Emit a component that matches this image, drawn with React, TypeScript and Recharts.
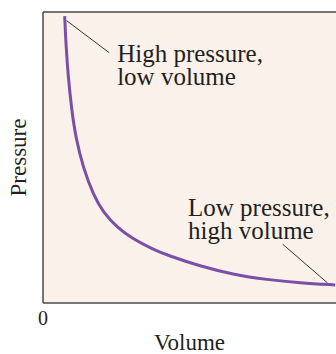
import React from "react";
import {
  CartesianGrid,
  Line,
  LineChart,
  ReferenceDot,
  ReferenceLine,
  XAxis,
  YAxis
} from "recharts";

// Boyle's law curve (arbitrary units 0..10)
const volume = [0.74, 0.78, 0.86, 0.98, 1.12, 1.38, 1.72, 2.05, 2.53, 3.07, 3.75, 4.27, 5.36, 6.48, 7.65, 8.77, 9.97];
const pressure = [9.86, 8.93, 7.77, 6.63, 5.67, 4.62, 3.72, 3.12, 2.6, 2.2, 1.85, 1.63, 1.27, 0.98, 0.8, 0.69, 0.62];
const xTicks = [0];

const highLabel = ["High pressure,", "low volume"];
const lowLabel = ["Low pressure,", "high volume"];

const data = volume.map((v, i) => ({ v, p: pressure[i] }));

const FONT = "'Liberation Serif', 'Times New Roman', serif";
const INK = "#231f20";
const AXIS = "#4a4a4a";

function note(lines: string[]) {
  return (props: any) => (
    <text x={props.cx} y={props.cy} fontFamily={FONT} fontSize={25} fill={INK}>
      {lines.map((t, i) => (
        <tspan key={t} x={props.cx} dy={i === 0 ? 0 : 23}>
          {t}
        </tspan>
      ))}
    </text>
  );
}

export default function App() {
  return (
    <div style={{ position: "absolute", left: 0, top: 0, background: "#fff" }}>
      <LineChart
        width={336}
        height={354}
        data={data}
        margin={{ top: 12, right: 0, bottom: 0, left: 0 }}
      >
        <CartesianGrid fill="#fbf1eb" horizontal={false} vertical={false} />
        <XAxis
          type="number"
          dataKey="v"
          domain={[0, 10]}
          ticks={xTicks}
          height={51}
          tickLine={false}
          axisLine={{ stroke: AXIS, strokeWidth: 1.5 }}
          tick={{ fontFamily: FONT, fontSize: 20, fill: INK }}
          label={{
            value: "Volume",
            position: "insideBottom",
            offset: 4,
            style: { fontFamily: FONT, fontSize: 23, fill: INK }
          }}
        />
        <YAxis
          type="number"
          domain={[0, 10]}
          width={43}
          tick={false}
          tickLine={false}
          axisLine={{ stroke: AXIS, strokeWidth: 1.5 }}
          label={{
            value: "Pressure",
            angle: -90,
            position: "insideLeft",
            offset: 18,
            style: { fontFamily: FONT, fontSize: 23, fill: INK, textAnchor: "middle" }
          }}
        />
        <ReferenceLine y={10} stroke={AXIS} strokeWidth={1.5} />
        <ReferenceLine
          segment={[{ x: 0.81, y: 9.7 }, { x: 2.26, y: 8.6 }]}
          stroke="#333"
          strokeWidth={1}
        />
        <ReferenceLine
          segment={[{ x: 8.18, y: 2.02 }, { x: 9.71, y: 0.69 }]}
          stroke="#333"
          strokeWidth={1}
        />
        <Line
          type="basis"
          dataKey="p"
          stroke="#7a4fa8"
          strokeWidth={3}
          dot={false}
          isAnimationActive={false}
        />
        <ReferenceDot x={2.53} y={8.28} r={0} shape={note(highLabel)} />
        <ReferenceDot x={4.95} y={2.99} r={0} shape={note(lowLabel)} />
      </LineChart>
    </div>
  );
}
